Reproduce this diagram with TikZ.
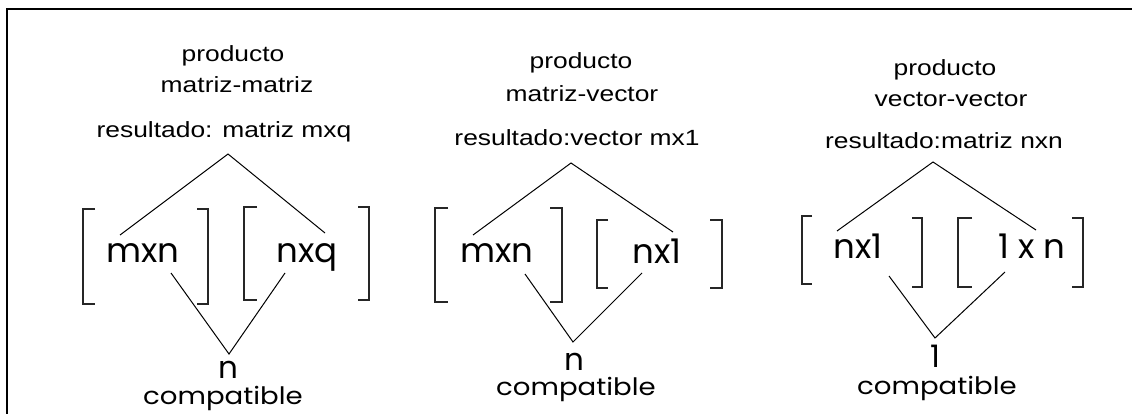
\documentclass[tikz,border=0pt]{standalone}
\usepackage{fontspec}
\newfontfamily\labfont[FakeStretch=1.2]{Liberation Sans}
\newfontfamily\bigfont{Poppins}
\newfontfamily\compfont[FakeStretch=1.15]{Poppins}
\begin{document}
\begin{tikzpicture}[x=1pt,y=-1pt,
  lab/.style={inner sep=0pt,anchor=base,font=\labfont\fontsize{22}{26}\selectfont,text=black},
  big/.style={inner sep=0pt,anchor=base,font=\bigfont\fontsize{34}{40}\selectfont,text=black},
  mid/.style={inner sep=0pt,anchor=base,font=\bigfont\fontsize{31}{36}\selectfont,text=black},
  comp/.style={inner sep=0pt,anchor=base,font=\compfont\fontsize{24}{28}\selectfont,text=black},
  brk/.style={draw=black!85,line width=1.5pt},
  link/.style={draw=black,line width=1pt}]
\useasboundingbox (0,0) rectangle (1132,414);
\fill[white] (0,0) rectangle (1132,414);
\draw[line width=2.8pt,black] (7,416) -- (7,9) -- (1134,9);

% ---------- panel 1 ----------
\node[lab] (t1a) at (233,62) {producto};
\node[lab] (t1b) at (237,93) {matriz-matriz};
\node[lab] (t1c) at (224,138) {resultado: matriz mxq};
\node[big] (m1a) at (143,262) {mxn};
\node[big] (m1b) at (307,262) {nxq};
\node[mid] (n1) at (228,378) {n};
\node[comp] (c1) at (223,404) {compatible};
\coordinate (ap1) at (228,154);
\coordinate (l1a) at (120,235);
\coordinate (l1b) at (325,233);
\coordinate (bt1) at (229,354);
\coordinate (b1a) at (171,273);
\coordinate (b1b) at (285,273);
\draw[link] (l1a) -- (ap1) -- (l1b);
\draw[link] (b1a) -- (bt1) -- (b1b);
\draw[brk] (95,209) -- (83,209) -- (83,304) -- (95,304);
\draw[brk] (197,209) -- (208,209) -- (208,304) -- (197,304);
\draw[brk] (257,207) -- (244,207) -- (244,300) -- (257,300);
\draw[brk] (358,207) -- (369,207) -- (369,300) -- (358,300);

% ---------- panel 2 ----------
\node[lab] (t2a) at (581,69) {producto};
\node[lab] (t2b) at (582,102) {matriz-vector};
\node[lab] (t2c) at (577,146) {resultado:vector mx1};
\node[big] (m2a) at (497,262) {mxn};
\node[big] (m2b) at (657,263) {nx1};
\node[mid] (n2) at (574,370) {n};
\node[comp] (c2) at (576,395) {compatible};
\coordinate (ap2) at (571,163);
\coordinate (l2a) at (473,235);
\coordinate (l2b) at (673,232);
\coordinate (bt2) at (573,342);
\coordinate (b2a) at (525,274);
\coordinate (b2b) at (642,273);
\draw[link] (l2a) -- (ap2) -- (l2b);
\draw[link] (b2a) -- (bt2) -- (b2b);
\draw[brk] (448,208) -- (435,208) -- (435,302) -- (448,302);
\draw[brk] (550,208) -- (562,208) -- (562,302) -- (550,302);
\draw[brk] (608,220) -- (597,220) -- (597,288) -- (608,288);
\draw[brk] (710,220) -- (722,220) -- (722,288) -- (710,288);

% ---------- panel 3 ----------
\node[lab] (t3a) at (945,76) {producto};
\node[lab] (t3b) at (951,107) {vector-vector};
\node[lab] (t3c) at (944,149) {resultado:matriz nxn};
\node[big] (m3a) at (858,258) {nx1};
\node[big] (m3b) at (1032,258) {1 x n};
\node[mid] (n3) at (935,367) {1};
\node[comp] (c3) at (937,394) {compatible};
\coordinate (ap3) at (933,162);
\coordinate (l3a) at (837,231);
\coordinate (l3b) at (1036,230);
\coordinate (bt3) at (935,338);
\coordinate (b3a) at (889,276);
\coordinate (b3b) at (1005,272);
\draw[link] (l3a) -- (ap3) -- (l3b);
\draw[link] (b3a) -- (bt3) -- (b3b);
\draw[brk] (812,216) -- (802,216) -- (802,284) -- (812,284);
\draw[brk] (912,218) -- (922,218) -- (922,287) -- (912,287);
\draw[brk] (972,218) -- (958,218) -- (958,287) -- (972,287);
\draw[brk] (1072,218) -- (1083,218) -- (1083,287) -- (1072,287);
\end{tikzpicture}
\end{document}
